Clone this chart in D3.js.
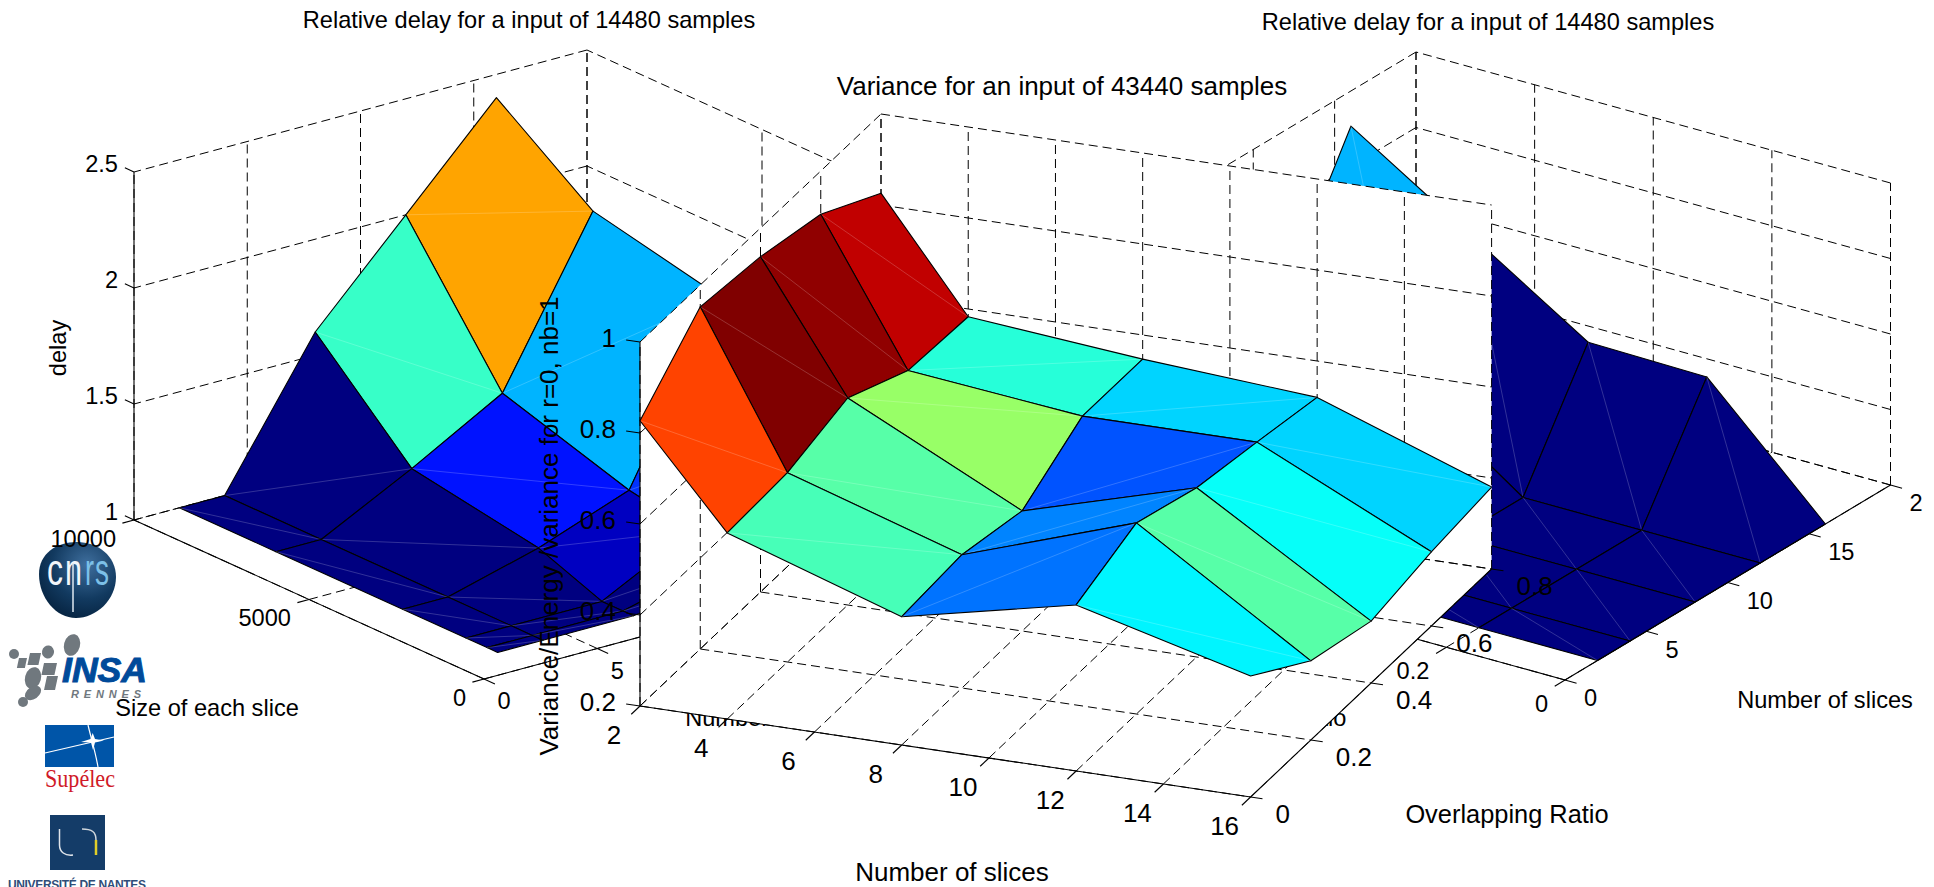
<!DOCTYPE html>
<html>
<head>
<meta charset="utf-8">
<title>Relative delay and variance</title>
<style>
body { margin: 0; background: #fff; }
svg { display: block; font-size: 23.6px; }
text { font-family: "Liberation Sans", sans-serif; fill: #000; }
.grid { fill: none; stroke: #000; stroke-width: 1px; stroke-dasharray: 9,5; }
.axis { fill: none; stroke: #000; stroke-width: 1.1px; }
.edge { stroke: #000; stroke-width: 1.1px; stroke-linejoin: round; }
.diag { stroke: #fff; stroke-opacity: 0.28; stroke-width: 0.7px; }
</style>
</head>
<body>
<script src="https://cdn.jsdelivr.net/npm/d3@7"></script>
<script>

var width = 1934,
    height = 887;

// surface nodes
var sliceNodes = [2, 4, 8, 12, 16];
var sizeNodes = [10000, 7240, 3620, 1810, 1207, 905];
var ratioNodes = [0, 0.2, 0.4, 0.6, 0.8];

// left plot, one row per number of slices
var delaySize = [
  [1, 1, 1, 1, 1, 1],
  [1, 1, 1, 1, 1, 1],
  [1.6, 1.2, 1.106, 1, 1, 1],
  [2.0, 1.42, 1.25, 1.2, 1.1, 1.05],
  [2.4, 2.1, 1.98, 1.5, 1.3, 1.2]
];

// right plot
var delayRatio = [
  [1, 1, 1, 1, 1],
  [1, 1, 1, 1, 1],
  [1, 1, 1, 1, 1],
  [1, 1, 1, 1.55, 1.95],
  [1, 1.757, 1.77, 2.27, 2.767]
];

// middle plot
var varianceRatio = [
  [0.827, 0.952, 0.937, 0.905, 0.826],
  [0.609, 0.616, 0.655, 0.59, 0.583],
  [0.482, 0.493, 0.464, 0.547, 0.547],
  [0.565, 0.62, 0.572, 0.547, 0.52],
  [0.466, 0.374, 0.336, 0.363, 0.38]
];

// ticks
var sliceTicks20 = [0, 5, 10, 15, 20];
var sliceLabels20 = ["0", "5", "10", "15", "20"];
var sliceLabelsCut = ["0", "5", "10", "15", "2"];  // the 0 of 20 is cut off in the figure
var sliceTicks16 = [2, 4, 6, 8, 10, 12, 14, 16];
var sizeTicks = [0, 5000, 10000];
var ratioTicks = [0, 0.2, 0.4, 0.6, 0.8];
var delayTicks = [1, 1.5, 2, 2.5];
var delayTicksRight = [1, 1.5, 2, 2.5, 3];
var varianceTicks = [0.2, 0.4, 0.6, 0.8, 1];

var jet = d3.scaleLinear()
    .domain([0, 0.125, 0.375, 0.625, 0.875, 1])
    .range(["#000080", "#0000ff", "#00ffff", "#ffff00", "#ff0000", "#800000"]);

var svg = d3.select("body").append("svg")
    .attr("width", width)
    .attr("height", height);

var line = d3.line();

drawLogos(svg.append("g"));

drawPlot(svg.append("g"), {
  xNodes: sliceNodes, yNodes: sizeNodes, values: delaySize,
  xDomain: [0, 20], yDomain: [0, 10000], zDomain: [1, 2.5],
  xTicks: sliceTicks20, yTicks: sizeTicks, zTicks: delayTicks,
  xLabels: sliceLabels20, yLabels: sizeTicks.map(String), zLabels: ["1", "1.5", "2", "2.5"],
  origin: [484, 679], xVec: [453, -122], yVec: [-350, -159], zVec: [0, -348],
  xWall: 20, yWall: 10000, yAxisAt: 0, zAxisAt: [0, 10000],
  xTickDir: -1, yTickDir: -1, zTickAlong: "y",
  xOff: [20, 22, "middle"], yOff: [-18, 18.5, "end"], zOff: [-16, -8, "end"]
});

drawPlot(svg.append("g"), {
  xNodes: sliceNodes, yNodes: ratioNodes, values: delayRatio,
  xDomain: [0, 20], yDomain: [0, 0.8], zDomain: [1, 3],
  xTicks: sliceTicks20, yTicks: ratioTicks, zTicks: delayTicksRight,
  xLabels: sliceLabelsCut, yLabels: ["0", "0.2", "0.4", "0.6", "0.8"], zLabels: ["1", "1.5", "2", "2.5", "3"],
  origin: [1565, 680], xVec: [325.5, -195], yVec: [-474.5, -131], zVec: [0, -302],
  xWall: 20, yWall: 0.8, yAxisAt: 0, zAxisAt: [0, 0.8],
  xTickDir: -1, yTickDir: -1, zTickAlong: "y",
  xOff: [19, 18, "start"], yOff: [-17, 23.5, "end"], zOff: [-16, -8, "end"]
});

axisText(529, 20, "Relative delay for a input of 14480 samples");
axisText(1488, 22, "Relative delay for a input of 14480 samples");
axisText(207, 708, "Size of each slice");
axisText(58, 348, "delay", -90);
axisText(773, 718, "Number of slices");
axisText(1825, 700, "Number of slices");
axisText(1252, 718, "Overlapping Ratio");

drawPlot(svg.append("g").style("font-size", "26px"), {
  xNodes: sliceNodes, yNodes: ratioNodes, values: varianceRatio,
  xDomain: [2, 16], yDomain: [0, 0.8], zDomain: [0.2, 1],
  xTicks: sliceTicks16, yTicks: ratioTicks, zTicks: varianceTicks,
  xLabels: sliceTicks16.map(String), yLabels: ["0", "0.2", "0.4", "0.6", "0.8"], zLabels: ["0.2", "0.4", "0.6", "0.8", "1"],
  origin: [640, 706], xVec: [610.6, 91], yVec: [241, -228], zVec: [0, -364],
  xWall: 2, yWall: 0.8, yAxisAt: 16, zAxisAt: [2, 0],
  xTickDir: -1, yTickDir: 1, zTickAlong: "-x",
  xOff: [-26, 29, "middle"], yOff: [25, 17, "start"], zOff: [-24, -4.5, "end"],
  white: true
});

axisText(1062, 86, "Variance for an input of 43440 samples", 0, 26);
axisText(952, 872, "Number of slices", 0, 26);
axisText(1507, 814, "Overlapping Ratio", 0, 25.4);
axisText(549, 526, "Variance/Energy /variance for r=0, nb=1", -90, 26);

function axisText(x, y, s, angle, size) {
  svg.append("text")
      .attr("transform", "translate(" + x + "," + y + ") rotate(" + (angle || 0) + ")")
      .attr("dy", "0.35em")
      .attr("text-anchor", "middle")
      .style("font-size", size ? size + "px" : null)
      .text(s);
}

function drawPlot(g, c) {
  var sx = d3.scaleLinear().domain(c.xDomain).range([0, 1]),
      sy = d3.scaleLinear().domain(c.yDomain).range([0, 1]),
      sz = d3.scaleLinear().domain(c.zDomain).range([0, 1]);

  function project(x, y, z) {
    var a = sx(x), b = sy(y), h = sz(z);
    return [c.origin[0] + a * c.xVec[0] + b * c.yVec[0] + h * c.zVec[0],
            c.origin[1] + a * c.xVec[1] + b * c.yVec[1] + h * c.zVec[1]];
  }

  var x0 = c.xDomain[0], x1 = c.xDomain[1],
      y0 = c.yDomain[0], y1 = c.yDomain[1],
      z0 = c.zDomain[0], z1 = c.zDomain[1];

  // the middle plot hides what is behind its box
  if (c.white) {
    var xFar = c.xWall == x0 ? x1 : x0;
    g.append("path")
        .attr("d", line([
          project(c.zAxisAt[0], c.zAxisAt[1], z1),
          project(c.xWall, c.yWall, z1),
          project(xFar, c.yWall, z1),
          project(xFar, c.yWall, z0),
          project(xFar, y0, z0),
          project(c.zAxisAt[0], c.zAxisAt[1], z0)
        ]) + "Z")
        .attr("fill", "#fff");
  }

  // grid on the two walls and the floor
  var grid = [];
  c.xTicks.forEach(function(t) {
    grid.push([project(t, y0, z0), project(t, y1, z0)]);
    grid.push([project(t, c.yWall, z0), project(t, c.yWall, z1)]);
  });
  c.yTicks.forEach(function(t) {
    grid.push([project(x0, t, z0), project(x1, t, z0)]);
    grid.push([project(c.xWall, t, z0), project(c.xWall, t, z1)]);
  });
  c.zTicks.forEach(function(t) {
    var xOther = c.xWall == x0 ? x1 : x0,
        yOther = c.yWall == y0 ? y1 : y0;
    grid.push([project(c.xWall, yOther, t), project(c.xWall, c.yWall, t)]);
    grid.push([project(c.xWall, c.yWall, t), project(xOther, c.yWall, t)]);
  });
  g.append("g").selectAll("path")
      .data(grid)
      .enter().append("path")
      .attr("class", "grid")
      .attr("d", function(d) { return line(d); });

  // faces, far ones first
  var flat = d3.merge(c.values);
  var color = d3.scaleLinear().domain(d3.extent(flat)).range([0, 1]);

  function faceColor(v) {
    var i = Math.min(63, Math.floor(color(v) * 64));
    return jet(i / 63);
  }

  var faces = [];
  c.xNodes.slice(1).forEach(function(xb, i) {
    var xa = c.xNodes[i];
    c.yNodes.slice(1).forEach(function(yb, j) {
      var ya = c.yNodes[j],
          v = c.values;
      faces.push({
        corners: [project(xa, ya, v[i][j]), project(xb, ya, v[i + 1][j]),
                  project(xb, yb, v[i + 1][j + 1]), project(xa, yb, v[i][j + 1])],
        value: v[i][j],
        depth: project((xa + xb) / 2, (ya + yb) / 2, z0)[1]
      });
    });
  });
  faces.sort(function(a, b) { return d3.ascending(a.depth, b.depth); });

  var face = g.append("g").selectAll("g")
      .data(faces)
      .enter().append("g");

  face.append("path")
      .attr("class", "edge")
      .attr("fill", function(d) { return faceColor(d.value); })
      .attr("d", function(d) { return line(d.corners) + "Z"; });

  face.append("path")
      .attr("class", "diag")
      .attr("d", function(d) { return line([d.corners[0], d.corners[2]]); });

  // solid axes and tick marks
  var axes = [
    [project(x0, y0, z0), project(x1, y0, z0)],
    [project(c.yAxisAt, y0, z0), project(c.yAxisAt, y1, z0)],
    [project(c.zAxisAt[0], c.zAxisAt[1], z0), project(c.zAxisAt[0], c.zAxisAt[1], z1)]
  ];

  function unit(v, k) {
    var n = Math.sqrt(v[0] * v[0] + v[1] * v[1]);
    return [v[0] / n * k, v[1] / n * k];
  }

  var xTick = unit(c.yVec, 12 * c.xTickDir),
      yTick = unit(c.xVec, 12 * c.yTickDir),
      zTick = c.zTickAlong == "y" ? unit(c.yVec, 10) : unit(c.xVec, -14);

  function addTick(p, t) { axes.push([p, [p[0] + t[0], p[1] + t[1]]]); }

  c.xTicks.forEach(function(t) { addTick(project(t, y0, z0), xTick); });
  c.yTicks.forEach(function(t) { addTick(project(c.yAxisAt, t, z0), yTick); });
  c.zTicks.forEach(function(t) { addTick(project(c.zAxisAt[0], c.zAxisAt[1], t), zTick); });

  g.append("g").selectAll("path")
      .data(axes)
      .enter().append("path")
      .attr("class", "axis")
      .attr("d", function(d) { return line(d); });

  // tick labels
  function labels(ticks, names, pos, off) {
    g.append("g").selectAll("text")
        .data(ticks)
        .enter().append("text")
        .attr("x", function(d) { return pos(d)[0] + off[0]; })
        .attr("y", function(d) { return pos(d)[1] + off[1]; })
        .attr("dy", "0.35em")
        .attr("text-anchor", off[2])
        .text(function(d, i) { return names[i]; });
  }

  labels(c.xTicks, c.xLabels, function(t) { return project(t, y0, z0); }, c.xOff);
  labels(c.yTicks, c.yLabels, function(t) { return project(c.yAxisAt, t, z0); }, c.yOff);
  labels(c.zTicks, c.zLabels, function(t) { return project(c.zAxisAt[0], c.zAxisAt[1], t); }, c.zOff);
}

function drawLogos(g) {
  // cnrs
  var defs = g.append("defs");
  var grad = defs.append("radialGradient").attr("id", "cnrsBall")
      .attr("cx", "62%").attr("cy", "30%").attr("r", "75%");
  grad.append("stop").attr("offset", "0%").attr("stop-color", "#3f6f9e");
  grad.append("stop").attr("offset", "60%").attr("stop-color", "#123a60");
  grad.append("stop").attr("offset", "100%").attr("stop-color", "#062340");
  g.append("path")
      .attr("d", "M77,542C98,542 116,556 116,577C116,600 96,618 76,618C56,618 39,598 39,574C39,554 56,542 77,542Z")
      .attr("fill", "url(#cnrsBall)");
  var letters = [["c", 47, 16, "#f2f6fa"], ["n", 65, 17, "#f2f6fa"], ["r", 85, 9, "#7cc0e8"], ["s", 95, 14, "#7cc0e8"]];
  g.selectAll("text.cnrs")
      .data(letters)
      .enter().append("text")
      .attr("class", "cnrs")
      .attr("x", function(d) { return d[1]; })
      .attr("y", 585)
      .attr("textLength", function(d) { return d[2]; })
      .attr("lengthAdjust", "spacingAndGlyphs")
      .style("font-size", "44px")
      .style("fill", function(d) { return d[3]; })
      .text(function(d) { return d[0]; });
  g.append("path").attr("d", "M73,563V612").attr("stroke", "#dfe8f0").attr("stroke-width", 1.5);

  // insa
  var gray = "#70787e";
  var dots = [[72, 645, 8, 11, 15], [14, 654, 5, 5, 0], [48, 652, 6, 6.5, 10], [33, 678, 8, 11, 15], [33, 693, 9, 6, -35], [23, 702, 5, 5, 0]];
  g.selectAll("ellipse.dot")
      .data(dots)
      .enter().append("ellipse")
      .attr("class", "dot")
      .attr("transform", function(d) { return "translate(" + d[0] + "," + d[1] + ") rotate(" + d[4] + ")"; })
      .attr("rx", function(d) { return d[2]; })
      .attr("ry", function(d) { return d[3]; })
      .attr("fill", gray);
  var chips = [[19, 658, 8, 10], [30, 653, 11, 12], [44, 663, 13, 12], [47, 676, 11, 14]];
  g.selectAll("rect.chip")
      .data(chips)
      .enter().append("rect")
      .attr("class", "chip")
      .attr("transform", function(d) { return "translate(" + d[0] + "," + d[1] + ") skewX(-12)"; })
      .attr("width", function(d) { return d[2]; })
      .attr("height", function(d) { return d[3]; })
      .attr("fill", gray);
  g.append("text").attr("x", 62).attr("y", 682)
      .style("font-size", "35px").style("font-weight", "bold").style("font-style", "italic").style("fill", "#004a9a")
      .style("stroke", "#004a9a").style("stroke-width", "1px")
      .attr("textLength", 85).attr("lengthAdjust", "spacingAndGlyphs").text("INSA");
  g.append("text").attr("x", 71).attr("y", 698)
      .style("font-size", "11px").style("font-weight", "bold").style("font-style", "italic").style("fill", gray)
      .attr("textLength", 70).text("RENNES");

  // supelec
  g.append("rect").attr("x", 45).attr("y", 725).attr("width", 69).attr("height", 42).attr("fill", "#0055a8");
  g.append("path").attr("d", "M45,753L114,737").attr("stroke", "#fff").attr("stroke-width", 1.2);
  g.append("path").attr("d", "M88,725C91,738 95,750 98,767").attr("stroke", "#fff").attr("stroke-width", 1.2).attr("fill", "none");
  g.append("path").attr("d", "M92.7,733L95,739L104,740.5L95,742.5L93,750L91,742.5L81,742L90.5,739Z").attr("fill", "#fff");
  g.append("text").attr("x", 45).attr("y", 787)
      .style("font-family", "Liberation Serif").style("font-size", "26px").style("fill", "#d01a28")
      .attr("textLength", 70).attr("lengthAdjust", "spacingAndGlyphs").text("Supélec");

  // universite de nantes
  g.append("rect").attr("x", 50).attr("y", 815).attr("width", 55).attr("height", 55).attr("fill", "#143c68");
  g.append("path").attr("d", "M59.5,829V845C59.5,852 65,856 73,855").attr("fill", "none").attr("stroke", "#dfe4ea").attr("stroke-width", 1.5);
  g.append("path").attr("d", "M82,829C92,829 96,832 96,840").attr("fill", "none").attr("stroke", "#cfd6dc").attr("stroke-width", 1.5);
  g.append("path").attr("d", "M96,840V855").attr("fill", "none").attr("stroke", "#e0cf2a").attr("stroke-width", 2.5);
  g.append("text").attr("x", 8).attr("y", 889)
      .style("font-size", "12px").style("font-weight", "bold").style("fill", "#2f4d78")
      .attr("textLength", 138).text("UNIVERSITÉ DE NANTES");
}

</script>
</body>
</html>
